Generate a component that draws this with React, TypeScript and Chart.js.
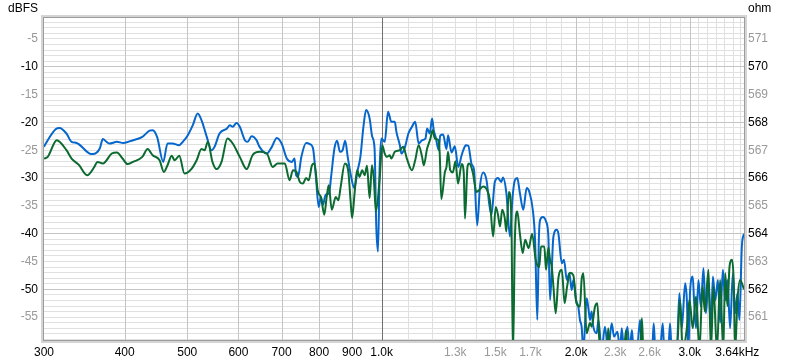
import React, { useEffect, useRef } from "react";
import { Chart, registerables } from "chart.js";

Chart.register(...registerables);

// ---- data: [frequency Hz, level dBFS] ----
const blueSeries: [number, number][] = [
  [300,-24.4],[304,-23.2],[313,-21.2],[317,-21.0],[325,-22.0],[331,-23.5],[337,-23.7],[353,-25.6],[357,-25.7],[366,-24.7],
  [370,-23.0],[375,-23.5],[379,-23.8],[389,-23.5],[398,-23.7],[412,-23.2],[426,-22.6],[437,-21.5],[442,-21.4],[449,-22.6],
  [459,-27.1],[466,-23.8],[474,-23.8],[486,-24.1],[492,-23.5],[501,-22.3],[510,-20.5],[519,-18.4],[526,-19.6],[536,-22.6],
  [545,-25.0],[551,-24.4],[561,-22.0],[576,-21.1],[582,-20.5],[588,-20.8],[596,-20.1],[603,-20.8],[614,-23.2],[620,-23.5],
  [629,-22.5],[640,-23.2],[647,-24.4],[664,-25.6],[676,-24.4],[688,-22.8],[700,-23.8],[713,-26.5],[726,-27.1],[733,-26.5],
  [737,-29.5],[742,-29.8],[751,-26.2],[764,-23.7],[774,-23.9],[783,-24.7],[791,-29.8],[799,-35.2],[805,-33.4],[811,-34.8],
  [819,-33.0],[829,-32.7],[835,-29.8],[845,-24.7],[853,-23.3],[862,-25.3],[870,-25.0],[878,-23.3],[886,-26.2],[897,-29.8],
  [907,-31.8],[918,-28.6],[927,-26.2],[937,-20.8],[946,-17.8],[958,-19.3],[967,-22.6],[975,-24.7],[981,-38.7],[987,-43.2],
  [993,-28.0],[999,-22.9],[1011,-23.5],[1023,-18.1],[1035,-19.9],[1048,-19.9],[1054,-21.7],[1067,-24.1],[1073,-25.6],[1087,-24.4],
  [1100,-22.0],[1114,-20.8],[1127,-19.9],[1141,-23.8],[1155,-23.2],[1169,-22.9],[1176,-21.1],[1187,-22.0],[1197,-19.3],[1204,-21.4],
  [1212,-22.6],[1226,-25.0],[1232,-22.4],[1245,-22.2],[1260,-24.8],[1267,-22.3],[1283,-25.4],[1298,-24.3],[1314,-28.0],[1330,-25.9],
  [1338,-25.0],[1350,-24.1],[1362,-24.2],[1378,-27.5],[1390,-28.5],[1406,-38.5],[1420,-31.5],[1436,-29.0],[1454,-30.5],[1467,-34.5],
  [1479,-36.6],[1497,-30.7],[1514,-30.0],[1532,-30.7],[1541,-29.9],[1560,-32.7],[1580,-40.5],[1595,-33.4],[1608,-30.4],[1622,-30.0],
  [1637,-32.7],[1657,-35.7],[1677,-31.8],[1693,-32.5],[1714,-35.7],[1728,-41.1],[1742,-55.5],[1752,-40.5],[1759,-37.6],[1776,-37.0],
  [1797,-37.8],[1812,-40.5],[1823,-51.9],[1845,-40.5],[1867,-39.3],[1878,-40.0],[1901,-45.3],[1916,-44.7],[1935,-48.3],[1953,-47.1],
  [1969,-50.1],[1981,-48.3],[2000,-51.9],[2016,-53.1],[2028,-55.5],[2040,-56.7],[2053,-61],[2077,-51.6],[2090,-53.4],[2102,-55.5],
  [2114,-54.0],[2127,-56.7],[2153,-57.9],[2166,-55.5],[2191,-61],[2217,-56.7],[2243,-61],[2271,-56.1],[2290,-58.5],[2318,-57.6],
  [2339,-61],[2354,-57.0],[2373,-61],[2402,-56.7],[2420,-61],[2441,-57.3],[2455,-61],[2484,-61],[2513,-55.5],[2529,-61],
  [2623,-61],[2638,-56.1],[2654,-61],[2698,-61],[2724,-56.1],[2740,-61],[2779,-61],[2796,-56.1],[2813,-61],[2864,-61],
  [2891,-50.7],[2916,-57.0],[2951,-48.9],[2969,-51.9],[2986,-61],[3003,-50.4],[3032,-47.7],[3046,-51.9],[3068,-57.0],[3094,-48.3],
  [3121,-53.1],[3150,-46.2],[3177,-54.3],[3207,-48.9],[3235,-57.0],[3258,-47.7],[3285,-52.0],[3317,-48.3],[3343,-56.0],[3376,-46.5],
  [3404,-52.0],[3432,-48.3],[3464,-57.0],[3498,-47.1],[3527,-54.3],[3556,-50.7],[3581,-55.5],[3612,-42.3],[3640,-40.0],
];

const greenSeries: [number, number][] = [
  [300,-26.5],[304,-26.2],[314,-23.2],[325,-25.0],[331,-26.5],[340,-27.7],[347,-29.2],[350,-29.5],[359,-28.0],[363,-27.1],
  [370,-27.4],[382,-25.6],[389,-25.4],[397,-26.5],[404,-27.5],[412,-27.1],[426,-26.2],[434,-24.8],[442,-25.9],[453,-26.8],
  [460,-28.9],[466,-27.7],[473,-26.0],[478,-26.8],[486,-26.0],[495,-29.2],[508,-28.3],[517,-26.8],[526,-24.8],[532,-25.0],
  [538,-23.5],[547,-27.1],[555,-28.4],[565,-27.1],[577,-22.9],[588,-23.8],[603,-26.2],[618,-28.4],[631,-25.9],[647,-25.3],
  [664,-25.6],[678,-28.0],[690,-27.4],[708,-27.4],[720,-30.4],[729,-28.6],[738,-28.9],[747,-30.7],[755,-31.0],[764,-30.0],
  [771,-30.4],[780,-27.7],[787,-27.4],[796,-32.2],[806,-33.6],[815,-36.6],[822,-33.4],[828,-31.3],[837,-35.7],[849,-33.4],
  [857,-34.0],[864,-31.6],[877,-27.4],[888,-28.9],[895,-34.0],[900,-37.2],[908,-32.7],[916,-28.6],[924,-29.8],[933,-28.6],
  [941,-29.5],[949,-27.8],[958,-33.6],[966,-27.7],[972,-29.8],[980,-36.0],[993,-30.0],[1002,-24.1],[1011,-25.6],[1019,-26.2],
  [1029,-25.9],[1035,-26.5],[1048,-25.3],[1067,-25.0],[1080,-24.4],[1094,-26.5],[1114,-28.6],[1127,-26.8],[1141,-24.1],[1155,-26.2],
  [1162,-27.7],[1176,-24.7],[1190,-22.9],[1199,-21.4],[1209,-22.9],[1224,-23.2],[1230,-25.6],[1237,-33.8],[1253,-28.9],[1260,-28.0],
  [1267,-25.3],[1277,-28.6],[1289,-29.0],[1301,-27.0],[1313,-31.0],[1330,-27.5],[1340,-29.0],[1346,-37.3],[1358,-28.0],[1366,-27.4],
  [1384,-29.0],[1402,-32.5],[1420,-32.0],[1436,-31.5],[1454,-32.0],[1471,-34.0],[1488,-40.5],[1502,-35.2],[1514,-36.6],[1525,-38.7],
  [1537,-35.7],[1551,-37.2],[1560,-39.6],[1574,-32.5],[1588,-37.0],[1597,-62],[1608,-41.1],[1622,-36.0],[1637,-40.0],[1654,-43.5],
  [1668,-41.1],[1689,-42.6],[1710,-40.0],[1732,-44.7],[1754,-46.0],[1765,-42.3],[1786,-42.3],[1797,-46.5],[1812,-42.5],[1823,-44.7],
  [1834,-45.9],[1845,-49.5],[1860,-54.3],[1878,-48.0],[1901,-46.5],[1920,-52.5],[1937,-49.5],[1957,-47.0],[1981,-47.5],[2003,-52.5],
  [2028,-53.1],[2040,-48.3],[2053,-47.1],[2077,-57.9],[2102,-56.0],[2114,-56.7],[2140,-53.1],[2158,-52.5],[2178,-61],[2233,-61],
  [2243,-57.0],[2258,-61],[2373,-61],[2390,-57.3],[2403,-61],[2513,-61],[2529,-55.2],[2543,-61],[2864,-61],[2898,-51.9],
  [2926,-61],[2969,-57.0],[2997,-51.9],[3032,-57.0],[3068,-51.3],[3105,-61],[3140,-49.5],[3166,-54.0],[3207,-46.5],[3235,-61],
  [3265,-49.5],[3305,-61],[3343,-48.3],[3380,-61],[3404,-47.1],[3432,-53.0],[3457,-45.9],[3488,-44.7],[3508,-48.3],[3527,-61],
  [3556,-51.9],[3590,-48.3],[3640,-50.0],
];

// ---- axes / ticks ----
const xMin = 300;
const xMax = 3640;
const xGridValues = [
  300, 400, 500, 600, 700, 800, 900, 1000, 1100, 1200, 1300, 1400, 1500, 1600, 1700, 1800, 1900,
  2000, 2100, 2200, 2300, 2400, 2500, 2600, 2700, 2800, 2900, 3000, 3100, 3200, 3300, 3400, 3500, 3600, 3640,
];
const xLabelValues = [300, 400, 500, 600, 700, 800, 900, 1000, 1300, 1500, 1700, 2000, 2300, 2600, 3000, 3640];
const xLabelTexts = ["300", "400", "500", "600", "700", "800", "900", "1.0k", "1.3k", "1.5k", "1.7k", "2.0k", "2.3k", "2.6k", "3.0k", "3.64kHz    "];
const xGreyLabels = [1300, 1500, 1700, 2300, 2600];
const xMajorGrid = [400, 500, 600, 700, 800, 900, 2000, 3000];
const xDarkGrid = [1000];

const yMin = -59.1;
const yMax = -1.25;
const yGridValues = [-59,-58,-57,-56,-55,-54,-53,-52,-51,-50,-49,-48,-47,-46,-45,-44,-43,-42,-41,-40,-39,-38,-37,-36,-35,-34,-33,-32,-31,-30,-29,-28,-27,-26,-25,-24,-23,-22,-21,-20,-19,-18,-17,-16,-15,-14,-13,-12,-11,-10,-9,-8,-7,-6,-5,-4,-3,-2];
const ohmMin = 560.18;
const ohmMax = 571.75;
const ohmTicks = [561, 562, 563, 564, 565, 566, 567, 568, 569, 570, 571];

const FONT = '"Liberation Sans", Arial, sans-serif';
const BLUE = "#0566cc";
const GREEN = "#0a6a30";
const MINOR_GRID = "#e0e0e0";
const MAJOR_GRID = "#c4c4c4";
const DARK_GRID = "#707070";

// major vertical grid lines are drawn above the horizontal minor ones
const majorGridPlugin = {
  id: "majorGrid",
  beforeDatasetsDraw(chart: any) {
    const { ctx, chartArea: a, scales } = chart;
    const xs = scales.x;
    ctx.save();
    ctx.lineWidth = 1;
    const draw = (v: number, color: string) => {
      const px = Math.round(xs.getPixelForValue(v)) + 0.5;
      ctx.strokeStyle = color;
      ctx.beginPath();
      ctx.moveTo(px, a.top);
      ctx.lineTo(px, a.bottom);
      ctx.stroke();
    };
    xMajorGrid.forEach((v) => draw(v, MAJOR_GRID));
    xDarkGrid.forEach((v) => draw(v, DARK_GRID));
    ctx.restore();
  },
};

const framePlugin = {
  id: "frameAndTitles",
  afterDraw(chart: any) {
    const { ctx, chartArea: a } = chart;
    ctx.save();
    ctx.strokeStyle = "#d4d4d4";
    ctx.lineWidth = 3;
    ctx.strokeRect(a.left - 1.5, a.top - 1.5, a.right - a.left + 3, a.bottom - a.top + 3);
    ctx.strokeStyle = "#9c9c9c";
    ctx.lineWidth = 1;
    ctx.strokeRect(a.left - 0.5, a.top - 0.5, a.right - a.left + 1, a.bottom - a.top + 1);
    ctx.font = `12px ${FONT}`;
    ctx.fillStyle = "#000";
    ctx.textBaseline = "alphabetic";
    ctx.textAlign = "right";
    ctx.fillText("dBFS", 38, 12);
    ctx.textAlign = "left";
    ctx.fillText("ohm", 748, 12);
    ctx.restore();
  },
};

export default function App() {
  const ref = useRef<HTMLCanvasElement | null>(null);

  useEffect(() => {
    if (!ref.current) return;
    const lineStyle = {
      borderWidth: 2,
      pointRadius: 0,
      cubicInterpolationMode: "monotone",
      fill: false,
      clip: 0,
      yAxisID: "y",
    };
    const chart = new Chart(ref.current, {
      type: "line",
      data: {
        datasets: [
          {
            label: "green",
            data: greenSeries.map(([f, v]) => ({ x: f, y: v })),
            borderColor: GREEN,
            ...lineStyle,
          },
          {
            label: "blue",
            data: blueSeries.map(([f, v]) => ({ x: f, y: v })),
            borderColor: BLUE,
            ...lineStyle,
          },
        ],
      },
      options: {
        responsive: false,
        animation: false,
        events: [],
        layout: { padding: { top: 18, left: 0, right: 0, bottom: 0 } },
        plugins: { legend: { display: false }, tooltip: { enabled: false } },
        scales: {
          x: {
            type: "logarithmic",
            min: xMin,
            max: xMax,
            border: { display: false },
            afterBuildTicks: (s: any) => {
              s.ticks = xGridValues.map((v) => ({ value: v }));
            },
            afterFit: (s: any) => {
              s.height = 24;
            },
            grid: {
              drawTicks: false,
              lineWidth: 1,
              color: (c: any) => {
                const v = c.tick ? c.tick.value : 0;
                if (v === xMin || v === xMax) return "rgba(0,0,0,0)";
                if (xDarkGrid.includes(v) || xMajorGrid.includes(v)) return "rgba(0,0,0,0)";
                return MINOR_GRID;
              },
            },
            ticks: {
              autoSkip: false,
              maxRotation: 0,
              padding: 5,
              font: { family: FONT, size: 12 },
              color: (c: any) => (c.tick && xGreyLabels.includes(c.tick.value) ? "#999999" : "#000000"),
              callback: (v: any) => {
                const i = xLabelValues.indexOf(Number(v));
                return i >= 0 ? xLabelTexts[i] : "";
              },
            },
          },
          y: {
            type: "linear",
            position: "left",
            min: yMin,
            max: yMax,
            border: { display: false },
            afterBuildTicks: (s: any) => {
              s.ticks = yGridValues.map((v) => ({ value: v }));
            },
            afterFit: (s: any) => {
              s.width = 44;
            },
            grid: {
              drawTicks: false,
              color: (c: any) => {
                const v = c.tick ? c.tick.value : 0;
                return v % 10 === 0 ? MAJOR_GRID : MINOR_GRID;
              },
            },
            ticks: {
              autoSkip: false,
              padding: 6,
              font: { family: FONT, size: 12 },
              color: (c: any) => (c.tick && c.tick.value % 10 === 0 ? "#000000" : "#999999"),
              callback: (v: any) => (Number(v) % 5 === 0 ? String(v) : ""),
            },
          },
          ohm: {
            type: "linear",
            position: "right",
            min: ohmMin,
            max: ohmMax,
            border: { display: false },
            afterBuildTicks: (s: any) => {
              s.ticks = ohmTicks.map((v) => ({ value: v }));
            },
            afterFit: (s: any) => {
              s.width = 56;
            },
            grid: { display: false, drawTicks: false },
            ticks: {
              autoSkip: false,
              padding: 4,
              font: { family: FONT, size: 12 },
              color: (c: any) => (c.tick && c.tick.value % 2 === 0 ? "#000000" : "#999999"),
              callback: (v: any) => String(v),
            },
          },
        },
      },
      plugins: [majorGridPlugin, framePlugin],
    } as any);
    return () => chart.destroy();
  }, []);

  return (
    <div style={{ position: "fixed", left: 0, top: 0, width: 800, height: 364, background: "#fff" }}>
      <canvas ref={ref} width={800} height={364} style={{ display: "block", width: 800, height: 364 }} />
    </div>
  );
}
